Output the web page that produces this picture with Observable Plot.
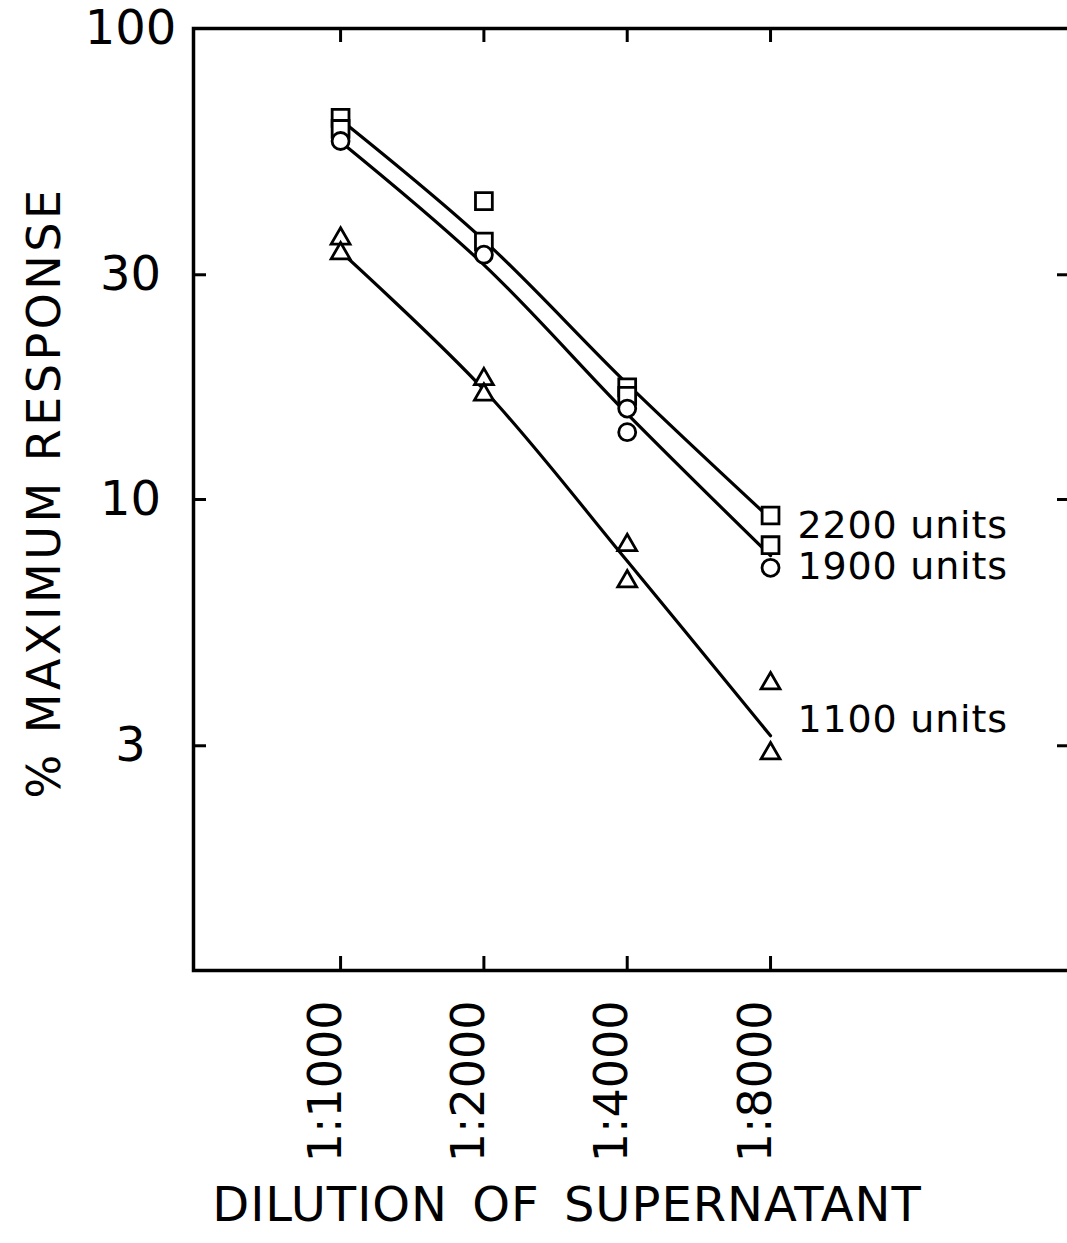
<!DOCTYPE html>
<html><head><meta charset="utf-8">
<script src="https://cdn.jsdelivr.net/npm/d3@7"></script>
<script src="https://cdn.jsdelivr.net/npm/@observablehq/plot@0.6"></script>
<style>body{margin:0;background:#fff} svg{display:block}</style>
</head><body><div id="chart"></div>
<script>
// Dilutions (x) and tick labels
const dilutions = [1000, 2000, 4000, 8000];
const dilutionLabels = ["1:1000", "1:2000", "1:4000", "1:8000"];
const yTicks = [100, 30, 10, 3];
const yTickLabels = ["100", "30", "10", "3"];

// Series names
const seriesNames = ["2200 units", "1900 units", "1100 units"];
const seriesLabelY = [8.8, 7.2, 3.4];

// Fitted curves (% maximum response at each dilution)
const fit2200 = [64, 35.5, 17.6, 9.1];
const fit1900 = [57.5, 31.5, 15.2, 7.6];
const fit1100 = [33.6, 17.1, 7.4, 3.15];

// Observed points: squares (2200 units)
const sqX = [1000, 1000, 2000, 2000, 4000, 4000, 8000, 8000];
const sqY = [64.6, 61.2, 43.0, 35.3, 17.3, 16.6, 9.25, 8.0];
// circles (1900 units)
const ciX = [1000, 2000, 4000, 4000, 8000];
const ciY = [57.7, 33.1, 15.6, 13.9, 7.16];
// triangles (1100 units)
const trX = [1000, 1000, 2000, 2000, 4000, 4000, 8000, 8000];
const trY = [35.8, 33.3, 18.0, 16.7, 8.0, 6.7, 4.07, 2.89];

const toPts = (xs, ys) => xs.map((x, i) => ({x, y: ys[i]}));
const lineData = (vals) => dilutions.map((d, i) => ({x: d, y: vals[i]}));

const W = 1067, H = 1243;
const mTop = 28, mLeft = 193, mRight = -3, mBottom = H - 970;
const frameW = W - mLeft - mRight, frameH = H - mTop - mBottom;
const font = "DejaVu Sans, sans-serif";

const chart = Plot.plot({
  width: W, height: H,
  marginTop: mTop, marginLeft: mLeft, marginRight: mRight, marginBottom: mBottom,
  style: {fontFamily: font, background: "#fff", color: "#000", overflow: "visible"},
  x: {type: "log", base: 2, domain: [491, 34130], axis: null},
  y: {type: "log", domain: [1, 100], axis: null},
  marks: [
    Plot.frame({stroke: "#000", strokeWidth: 3.5}),
    // inward ticks
    Plot.tickY(yTicks.slice(1), {y: d => d, stroke: "#000", strokeWidth: 3, insetRight: frameW - 13}),
    Plot.tickY(yTicks.slice(1), {y: d => d, stroke: "#000", strokeWidth: 3, insetLeft: frameW - 13}),
    Plot.tickX(dilutions, {x: d => d, stroke: "#000", strokeWidth: 3, insetTop: frameH - 14}),
    Plot.tickX(dilutions, {x: d => d, stroke: "#000", strokeWidth: 3, insetBottom: frameH - 14}),
    // tick labels
    Plot.text(yTicks, {y: d => d, text: (d, i) => yTickLabels[i], frameAnchor: "left", dx: -63,
      textAnchor: "middle", fontSize: 48, fill: "#000"}),
    Plot.text(dilutions, {x: d => d, text: (d, i) => dilutionLabels[i], frameAnchor: "bottom", dy: 30,
      rotate: -90, textAnchor: "end", fontSize: 46, fill: "#000"}),
    // axis titles
    Plot.text(["% MAXIMUM RESPONSE"], {frameAnchor: "left", dx: -148, dy: -7, rotate: -90,
      textAnchor: "middle", fontSize: 46, fill: "#000"}),
    Plot.text(["DILUTION OF SUPERNATANT"], {frameAnchor: "bottom", dx: -65, dy: 250,
      textAnchor: "middle", fontSize: 48, fill: "#000"}),
    // fitted curves
    Plot.line(lineData(fit2200), {x: "x", y: "y", stroke: "#000", strokeWidth: 3.2, curve: "catmull-rom"}),
    Plot.line(lineData(fit1900), {x: "x", y: "y", stroke: "#000", strokeWidth: 3.2, curve: "catmull-rom"}),
    Plot.line(lineData(fit1100), {x: "x", y: "y", stroke: "#000", strokeWidth: 3.2, curve: "catmull-rom"}),
    // observed points
    Plot.dot(toPts(sqX, sqY), {x: "x", y: "y", symbol: "square", r: 9.5, fill: "#fff", stroke: "#000", strokeWidth: 2.8}),
    Plot.dot(toPts(ciX, ciY), {x: "x", y: "y", symbol: "circle", r: 8.5, fill: "#fff", stroke: "#000", strokeWidth: 2.8}),
    Plot.dot(toPts(trX, trY), {x: "x", y: "y", symbol: "triangle", r: 7, fill: "#fff", stroke: "#000", strokeWidth: 2.8}),
    // series labels
    Plot.text(seriesNames, {x: () => 8000, y: (d, i) => seriesLabelY[i], text: d => d, dx: 27,
      textAnchor: "start", fontSize: 38, fill: "#000"})
  ]
});

d3.select(chart).selectAll("text").filter(function() {
  return this.textContent === "% MAXIMUM RESPONSE";
}).attr("letter-spacing", "3.5px");
d3.select(chart).selectAll("text").filter(function() {
  return this.textContent === "DILUTION OF SUPERNATANT";
}).attr("letter-spacing", "1px").attr("word-spacing", "8px");
d3.select(chart).selectAll("text").filter(function() {
  return /units$/.test(this.textContent);
}).attr("letter-spacing", "0.8px");

document.getElementById("chart").appendChild(chart);
</script>
</body></html>
